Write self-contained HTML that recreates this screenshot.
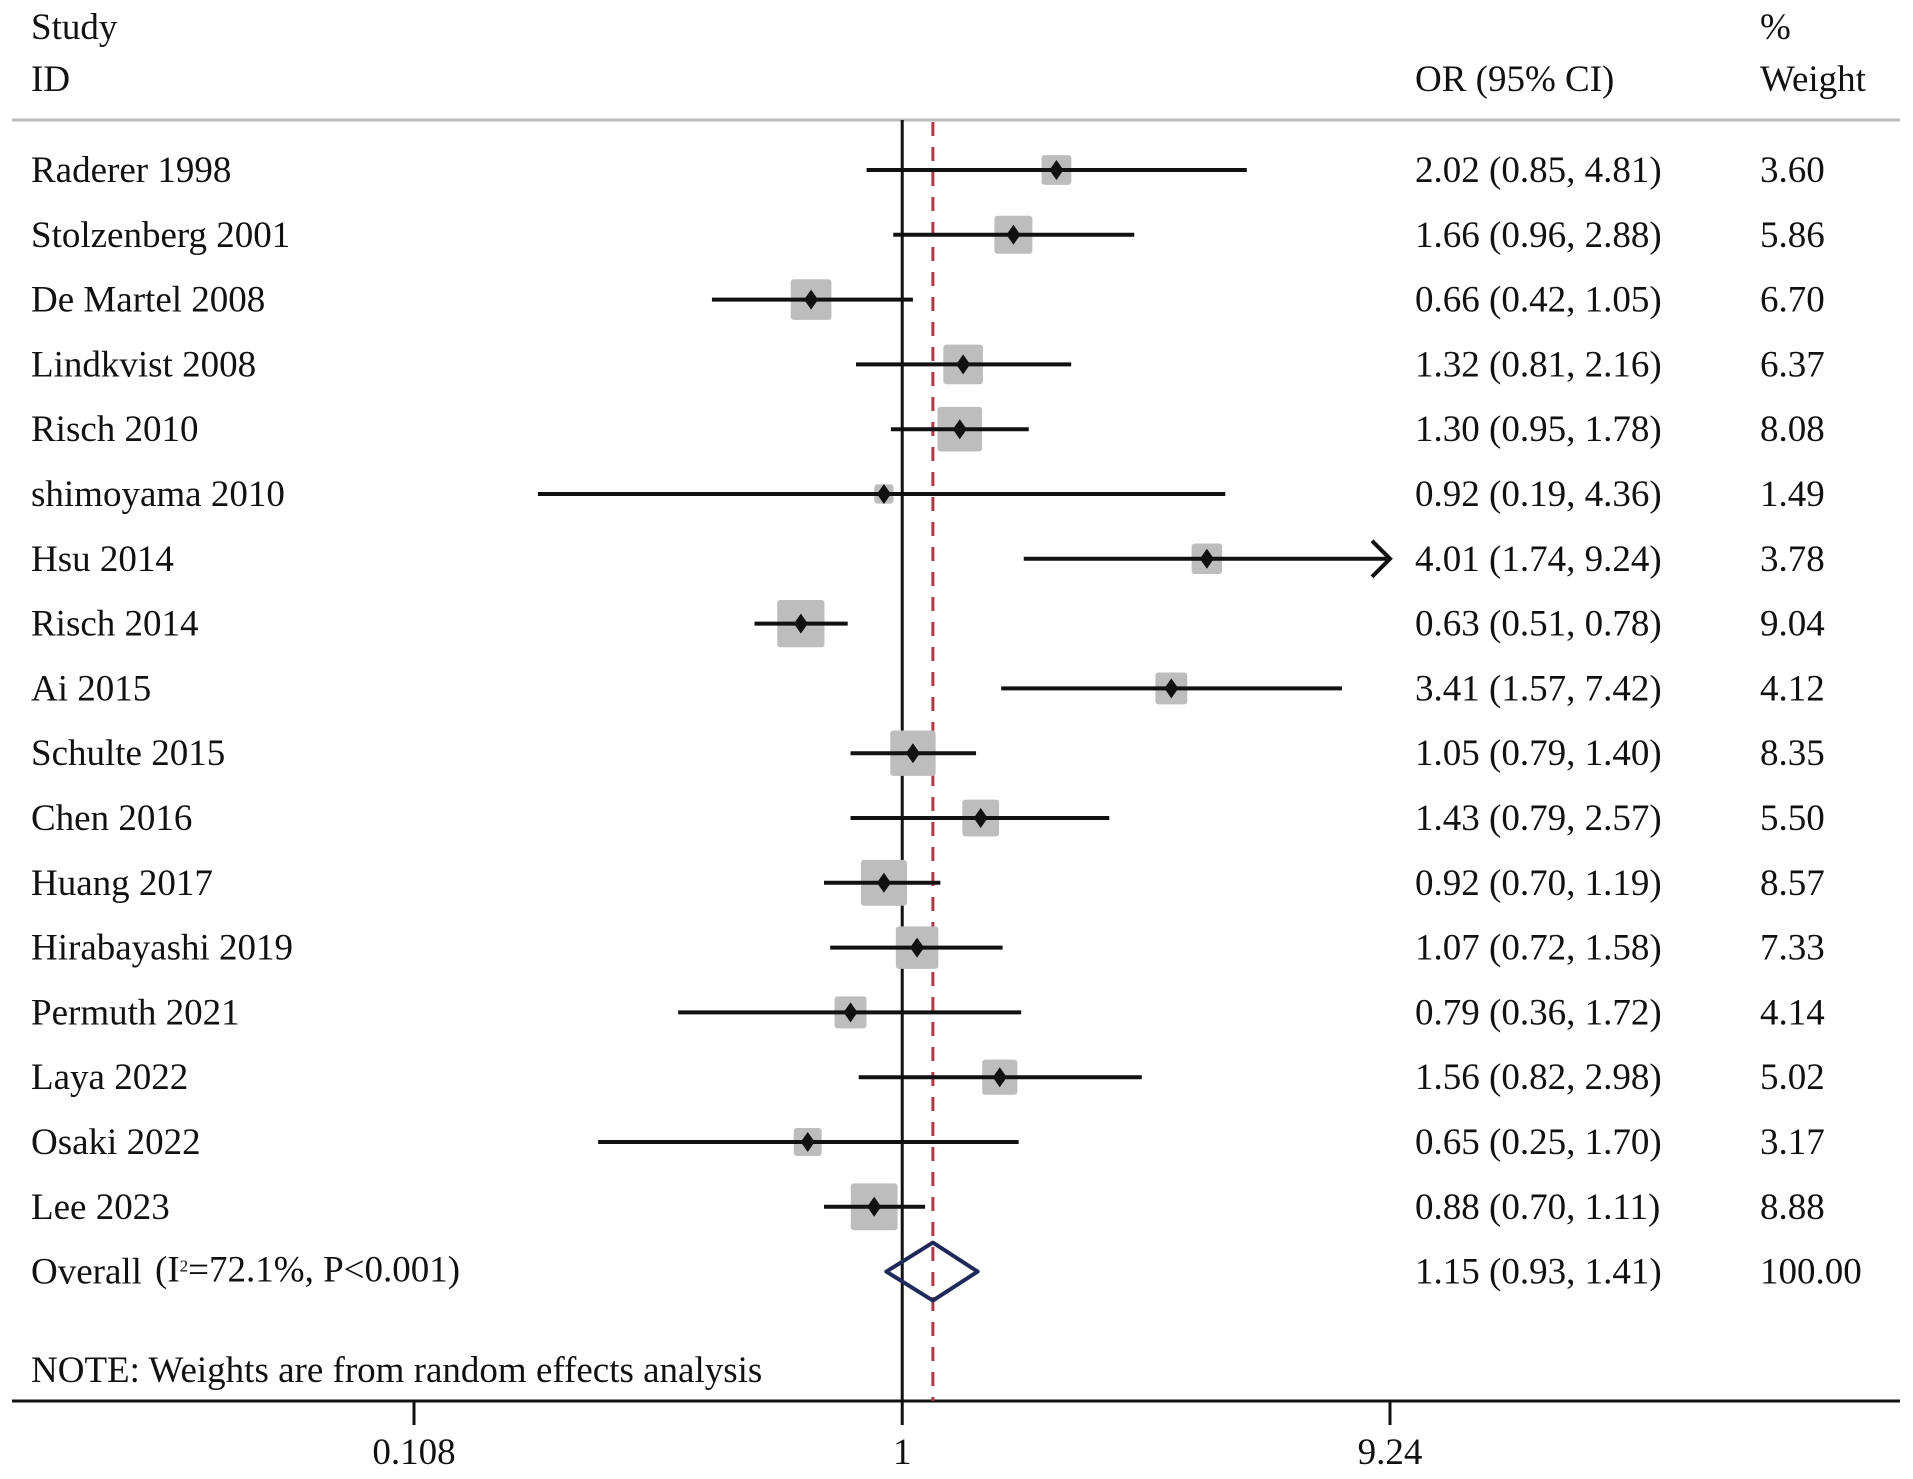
<!DOCTYPE html>
<html><head><meta charset="utf-8"><style>
html,body{margin:0;padding:0;background:#fff;}
svg{display:block;}
text{font-family:"Liberation Serif",serif;font-size:37px;fill:#111;}
</style></head><body>
<svg id="chart" width="1913" height="1479" viewBox="0 0 1913 1479" xmlns="http://www.w3.org/2000/svg">
<g id="static">
<text x="31" y="39">Study</text>
<text x="31" y="91">ID</text>
<text x="1415" y="91">OR (95% CI)</text>
<text x="1760" y="39">%</text>
<text x="1760" y="91">Weight</text>
<line x1="12" y1="120" x2="1900" y2="120" stroke="#bbb" stroke-width="3"/>
<line x1="12" y1="1401" x2="1900" y2="1401" stroke="#111" stroke-width="3"/>
<text x="31" y="1382">NOTE: Weights are from random effects analysis</text>
</g>
<g id="marks"></g>
</svg>
<script>
const studies = ["Raderer 1998","Stolzenberg 2001","De Martel 2008","Lindkvist 2008","Risch 2010","shimoyama 2010","Hsu 2014","Risch 2014","Ai 2015","Schulte 2015","Chen 2016","Huang 2017","Hirabayashi 2019","Permuth 2021","Laya 2022","Osaki 2022","Lee 2023"];
const orValues = [2.02,1.66,0.66,1.32,1.30,0.92,4.01,0.63,3.41,1.05,1.43,0.92,1.07,0.79,1.56,0.65,0.88];
const ciLower = [0.85,0.96,0.42,0.81,0.95,0.19,1.74,0.51,1.57,0.79,0.79,0.70,0.72,0.36,0.82,0.25,0.70];
const ciUpper = [4.81,2.88,1.05,2.16,1.78,4.36,9.24,0.78,7.42,1.40,2.57,1.19,1.58,1.72,2.98,1.70,1.11];
const weights = [3.60,5.86,6.70,6.37,8.08,1.49,3.78,9.04,4.12,8.35,5.50,8.57,7.33,4.14,5.02,3.17,8.88];
const overall = [1.15,0.93,1.41];
const overallWeight = "100.00";
const tickValues = [0.108,1,9.24];
const tickLabels = ["0.108","1","9.24"];

const NS="http://www.w3.org/2000/svg";
const g=document.getElementById('marks');
const xMin=0.108, xMax=9.24, pxMin=414, pxMax=1390;
function xs(v){const l=Math.log(Math.max(v,xMin*0.999)),a=Math.log(xMin),b=Math.log(xMax);return pxMin+(l-a)/(b-a)*(pxMax-pxMin);}
function ys(i){return 170+i*64.8;}
function mk(tag,attrs,text){const e=document.createElementNS(NS,tag);for(const k in attrs)e.setAttribute(k,attrs[k]);if(text!==undefined)e.textContent=text;g.appendChild(e);return e;}
const fmt=v=>v.toFixed(2);

let e=mk('line',{x1:xs(1),y1:120,x2:xs(1),y2:1401,stroke:'#111','stroke-width':3});


e=mk('line',{x1:xs(overall[0]),y1:122,x2:xs(overall[0]),y2:1401,stroke:'#b03a48','stroke-width':3,'stroke-dasharray':'14 11'});



studies.forEach((s,i)=>{
  const y=ys(i);
  let t=mk('text',{x:31,y:y+12},s);
  
  
  const side=15.7*Math.sqrt(weights[i]);
  let r=mk('rect',{x:xs(orValues[i])-side/2,y:y-side/2,width:side,height:side,fill:'#bdbdbd',rx:3});
  
  
  const x2=Math.min(xs(ciUpper[i]),pxMax);
  let l=mk('line',{x1:xs(ciLower[i]),y1:y,x2:x2,y2:y,stroke:'#111','stroke-width':4});
  
  
  if(ciUpper[i]>=xMax){
    let a=mk('path',{d:`M${x2-18},${y-18} L${x2},${y} L${x2-18},${y+18}`,fill:'none',stroke:'#111','stroke-width':4});
    
    
  }
  const cx=xs(orValues[i]);
  let d=mk('path',{d:`M${cx},${y-10} L${cx+7},${y} L${cx},${y+10} L${cx-7},${y} Z`,fill:'#111'});
  
  
  t=mk('text',{x:1415,y:y+12},`${fmt(orValues[i])} (${fmt(ciLower[i])}, ${fmt(ciUpper[i])})`);
  
  
  t=mk('text',{x:1760,y:y+12},fmt(weights[i]));
  
  
});

const oy=ys(studies.length);
let t=mk('text',{x:31,y:oy+12},'Overall');


t=mk('text',{x:155,y:oy+10,'font-size':26});


t.innerHTML='(I<tspan dy="-10" font-size="17">2</tspan><tspan dy="10">=72.1%,  P&lt;0.001)</tspan>';
let dm=mk('path',{d:`M${xs(overall[1])},${oy} L${xs(overall[0])},${oy-29} L${xs(overall[2])},${oy} L${xs(overall[0])},${oy+29} Z`,fill:'none',stroke:'#1f2a5a','stroke-width':4,'stroke-linejoin':'round'});


t=mk('text',{x:1415,y:oy+12},`${fmt(overall[0])} (${fmt(overall[1])}, ${fmt(overall[2])})`);


t=mk('text',{x:1760,y:oy+12},overallWeight);



tickValues.forEach((v,i)=>{
  const x=xs(v);
  let l=mk('line',{x1:x,y1:1401,x2:x,y2:1425,stroke:'#111','stroke-width':3});
  
  
  let tt=mk('text',{x:x,y:1464,'text-anchor':'middle'},tickLabels[i]);
  
  
});
</script>
</body></html>
